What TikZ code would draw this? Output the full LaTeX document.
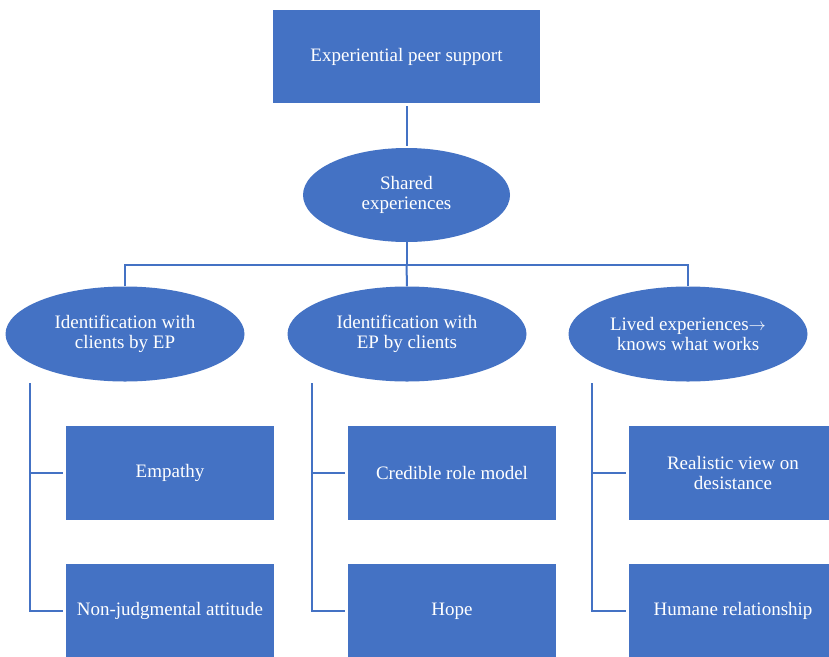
\documentclass[tikz,border=0pt]{standalone}
\usepackage{fontspec}
\setmainfont{Liberation Serif}
\usetikzlibrary{shapes.geometric}
\definecolor{obl}{HTML}{4472C4}
\tikzset{
  box/.style={rectangle, fill=obl, draw=none, text=white, minimum width=208pt, minimum height=94pt, align=center, inner sep=0pt, font=\fontsize{19}{20.5}\selectfont},
  topbox/.style={box, minimum width=267pt, minimum height=93pt},
  oval/.style={ellipse, fill=obl, draw=none, text=white, minimum width=239pt, minimum height=95pt, align=center, inner sep=0pt, font=\fontsize{19}{20.5}\selectfont},
  conn/.style={draw=obl, line width=2pt}
}
\begin{document}
\begin{tikzpicture}[x=1pt,y=-1pt]
\useasboundingbox (0,0) rectangle (829,656);
\clip (0,0) rectangle (829,656);
\fill[white] (0,0) rectangle (829,656);
\node[topbox] (top) at (406.5,56.5) {Experiential peer support};
\node[oval, minimum width=207pt, minimum height=94pt] (shared) at (406.5,195) {Shared\\experiences};
\node[oval] (e1) at (125,334) {Identification with\\clients by EP};
\node[oval] (e2) at (407,334) {Identification with\\EP by clients};
\node[oval] (e3) at (688,334) {Lived experiences\(\rightarrow\)\\knows what works};
\node[box] (b11) at (170,473) {Empathy};
\node[box] (b12) at (170,611) {Non-judgmental attitude};
\node[box] (b21) at (452,473) {Credible role model};
\node[box] (b22) at (452,611) {Hope};
\node[box] (b31) at (733,473) {Realistic view on\\desistance};
\node[box] (b32) at (733,611) {Humane relationship};
\coordinate (bar) at (406.5,265);
\coordinate (v1) at (30,383);
\coordinate (v2) at (312,383);
\coordinate (v3) at (592,383);
\draw[conn, shorten <=3pt, shorten >=2pt] (top.south) -- (shared.north);
\draw[conn] (shared.south) -- (bar);
\draw[conn, shorten <=-1pt] (bar) -- (e2.north);
\draw[conn] (e1.north) |- (bar) -| (e3.north);
\foreach \v/\a/\b in {v1/b11/b12, v2/b21/b22, v3/b31/b32}{
  \draw[conn, shorten >=3pt] (\v) |- (\a.west);
  \draw[conn, shorten >=3pt] (\v) |- (\b.west);
}
\end{tikzpicture}
\end{document}
